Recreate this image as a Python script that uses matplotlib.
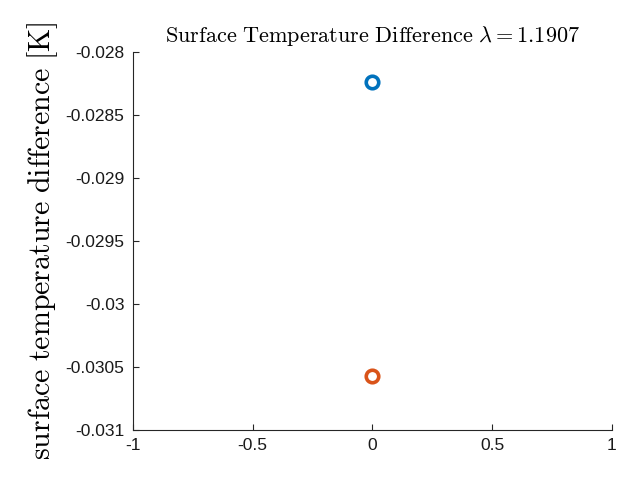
import matplotlib
matplotlib.use('Agg')
import matplotlib.pyplot as plt

# data
x_blue = [0.0]
y_blue = [-0.028238]
x_orange = [0.0]
y_orange = [-0.030575]
xticks = [-1, -0.5, 0, 0.5, 1]
yticks = [-0.031, -0.0305, -0.03, -0.0295, -0.029, -0.0285, -0.028]
ytick_labels = ['-0.031', '-0.0305', '-0.03', '-0.0295', '-0.029', '-0.0285', '-0.028']
xtick_labels = ['-1', '-0.5', '0', '0.5', '1']

plt.rcParams['mathtext.fontset'] = 'cm'
plt.rcParams['font.family'] = ['Liberation Sans', 'DejaVu Sans']

fig = plt.figure(figsize=(6.18, 4.84), dpi=100)
ax = fig.add_axes([0.215, 0.1116, 0.775, 0.781])

ax.plot(x_blue, y_blue, 'o', mfc='white', mec='#0072BD', mew=2.6, ms=9)
ax.plot(x_orange, y_orange, 'o', mfc='white', mec='#D95319', mew=2.6, ms=9)

ax.set_xlim(-1, 1)
ax.set_ylim(-0.031, -0.028)
ax.set_xticks(xticks)
ax.set_xticklabels(xtick_labels)
ax.set_yticks(yticks)
ax.set_yticklabels(ytick_labels)
ax.tick_params(direction='in', length=4, width=0.8, colors='#262626', labelsize=12.5, pad=6)
ax.tick_params(labelcolor='#1a1a1a')
for s in ['top', 'right']:
    ax.spines[s].set_visible(False)
for s in ['left', 'bottom']:
    ax.spines[s].set_color('#262626')
    ax.spines[s].set_linewidth(0.8)

ax.set_title(r'$\mathrm{Surface\ Temperature\ Difference}\ \lambda = 1.1907$', fontsize=16, pad=7)
ax.set_ylabel(r'$\mathrm{surface\ temperature\ difference\ [K]}$', fontsize=21.5, labelpad=4)

fig.savefig('out.png', dpi=100)
